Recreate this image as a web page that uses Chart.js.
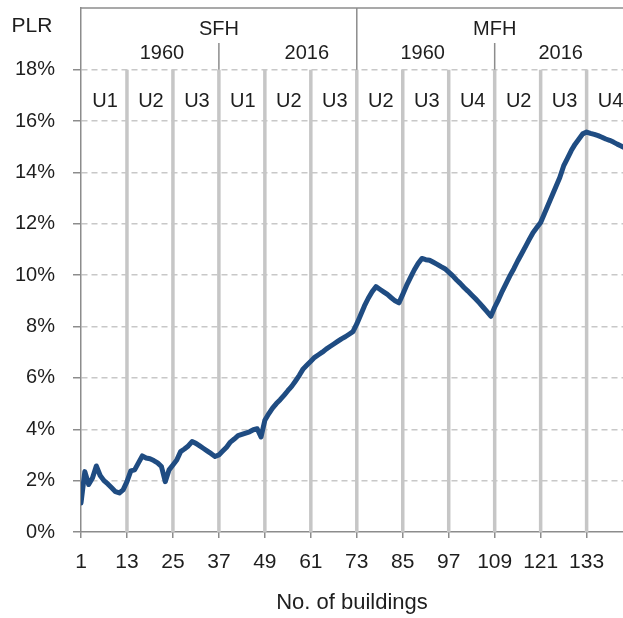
<!DOCTYPE html>
<html>
<head>
<meta charset="utf-8">
<script src="https://cdn.jsdelivr.net/npm/chart.js@4.4.1/dist/chart.umd.min.js"></script>
<style>
  html, body { margin: 0; padding: 0; background: #fff; overflow: hidden; }
  #wrap { width: 623px; height: 618px; }
</style>
</head>
<body>
<div id="wrap"><canvas id="plrChart" width="623" height="618"></canvas></div>
<script>
// PLR per building (buildings 1..144)
const plrValues = [
  1.13, 2.35, 1.85, 2.10, 2.57, 2.20, 2.00, 1.87, 1.72, 1.57, 1.52, 1.64,
  1.96, 2.38, 2.42, 2.69, 2.96, 2.88, 2.85, 2.78, 2.69, 2.55, 1.96, 2.42,
  2.61, 2.80, 3.13, 3.23, 3.35, 3.52, 3.45, 3.35, 3.25, 3.15, 3.05, 2.94,
  3.00, 3.15, 3.30, 3.50, 3.62, 3.75, 3.80, 3.85, 3.90, 3.98, 4.02, 3.70,
  4.35, 4.60, 4.82, 5.00, 5.15, 5.32, 5.50, 5.67, 5.88, 6.10, 6.35, 6.50,
  6.65, 6.80, 6.90, 7.00, 7.12, 7.22, 7.32, 7.42, 7.52, 7.60, 7.70, 7.80,
  8.10, 8.45, 8.80, 9.10, 9.35, 9.55, 9.45, 9.35, 9.25, 9.12, 9.00, 8.92,
  9.25, 9.60, 9.90, 10.20, 10.45, 10.65, 10.60, 10.58, 10.50, 10.42, 10.33, 10.25,
  10.12, 9.98, 9.82, 9.68, 9.52, 9.38, 9.23, 9.08, 8.92, 8.75, 8.58, 8.40,
  8.75, 9.05, 9.38, 9.68, 9.98, 10.25, 10.55, 10.82, 11.10, 11.38, 11.65, 11.85,
  12.05, 12.40, 12.75, 13.10, 13.45, 13.80, 14.25, 14.55, 14.85, 15.10, 15.30, 15.50,
  15.57, 15.52, 15.48, 15.43, 15.37, 15.30, 15.25, 15.18, 15.10, 15.03, 14.95, 14.90
];
const xTickValues = [1, 13, 25, 37, 49, 61, 73, 85, 97, 109, 121, 133];
const yTickValues = [0, 2, 4, 6, 8, 10, 12, 14, 16, 18];

// header groups
const typeLabels = ['SFH', 'MFH'];
const typeStarts = [1, 73];
const yearLabels = ['1960', '2016', '1960', '2016'];
const yearStarts = [1, 37, 73, 109];
const unitLabels = ['U1', 'U2', 'U3', 'U1', 'U2', 'U3', 'U2', 'U3', 'U4', 'U2', 'U3', 'U4'];
const unitStarts = [1, 13, 25, 37, 49, 61, 73, 85, 97, 109, 121, 133];
const groupSize = 12;

const FONT = "'Liberation Sans', Arial, sans-serif";
const TEXT = '#1e1e1e';

const headerPlugin = {
  id: 'header',
  beforeDatasetsDraw(chart) {
    const { ctx, chartArea, scales: { x, y } } = chart;
    const top18 = y.getPixelForValue(18);
    ctx.save();
    // thick unit separators
    ctx.strokeStyle = '#c6c6c6';
    ctx.lineWidth = 3.5;
    unitStarts.slice(1).forEach(b => {
      const px = x.getPixelForValue(b);
      ctx.beginPath();
      ctx.moveTo(px, top18);
      ctx.lineTo(px, chartArea.bottom);
      ctx.stroke();
    });
    // header frame
    ctx.strokeStyle = '#8c8c8c';
    ctx.lineWidth = 1.5;
    ctx.beginPath();
    ctx.moveTo(chartArea.left, chartArea.top);
    ctx.lineTo(chartArea.right, chartArea.top);
    ctx.stroke();
    const midPx = x.getPixelForValue(typeStarts[1]);
    ctx.beginPath();
    ctx.moveTo(midPx, chartArea.top);
    ctx.lineTo(midPx, top18);
    ctx.stroke();
    [yearStarts[1], yearStarts[3]].forEach(b => {
      const px = x.getPixelForValue(b);
      ctx.beginPath();
      ctx.moveTo(px, chartArea.top + 35);
      ctx.lineTo(px, top18);
      ctx.stroke();
    });
    ctx.restore();
  },
  afterDraw(chart) {
    const { ctx, chartArea, scales: { x, y } } = chart;
    ctx.save();
    ctx.fillStyle = TEXT;
    ctx.textAlign = 'center';
    ctx.textBaseline = 'middle';
    ctx.font = '21px ' + FONT;
    ctx.fillText('PLR', 32, 26);
    ctx.font = '20px ' + FONT;
    typeLabels.forEach((t, i) => {
      const c = x.getPixelForValue(typeStarts[i] + 36);
      ctx.fillText(t, c, chartArea.top + 21);
    });
    const yearNudge = [12, 19, -3, -3];
    yearLabels.forEach((t, i) => {
      const c = x.getPixelForValue(yearStarts[i] + 18) + yearNudge[i];
      ctx.fillText(t, c, chartArea.top + 45);
    });
    const uY = (y.getPixelForValue(18) + y.getPixelForValue(16)) / 2 + 6;
    unitLabels.forEach((t, i) => {
      const c = x.getPixelForValue(unitStarts[i] + groupSize / 2) + 1;
      ctx.fillText(t, c, uY);
    });
    ctx.restore();
  }
};

new Chart(document.getElementById('plrChart'), {
  type: 'line',
  data: {
    datasets: [{
      label: 'PLR',
      data: plrValues.map((v, i) => ({ x: i + 1, y: v })),
      borderColor: '#1f4c82',
      borderWidth: 5,
      pointRadius: 0,
      tension: 0,
      borderJoinStyle: 'round',
      borderCapStyle: 'round'
    }]
  },
  options: {
    responsive: false,
    animation: false,
    devicePixelRatio: 1,
    layout: { padding: { top: 8, right: 0, left: 0, bottom: 0 } },
    plugins: { legend: { display: false }, tooltip: { enabled: false } },
    scales: {
      x: {
        type: 'linear',
        min: 1,
        max: 142.5,
        afterBuildTicks: s => { s.ticks = xTickValues.map(v => ({ value: v })); },
        afterFit: s => { s.height = 86; s.paddingLeft = 0; s.paddingRight = 0; },
        ticks: {
          autoSkip: false, maxRotation: 0, padding: 12,
          color: TEXT, font: { family: FONT, size: 21 },
          callback: v => String(v)
        },
        grid: { drawOnChartArea: false, drawTicks: true, tickLength: 6, tickColor: '#8c8c8c', lineWidth: 1.5 },
        border: { color: '#8c8c8c', width: 1.5 },
        title: {
          display: true, text: 'No. of buildings', color: TEXT,
          font: { family: FONT, size: 22 }, padding: { top: 0, bottom: 2 }
        }
      },
      y: {
        min: 0,
        max: 20.4,
        afterBuildTicks: s => { s.ticks = yTickValues.map(v => ({ value: v })); },
        afterFit: s => { s.width = 81; s.paddingTop = 0; s.paddingBottom = 0; },
        ticks: {
          padding: 18, color: TEXT, font: { family: FONT, size: 20 },
          callback: v => v + '%'
        },
        grid: {
          color: ctx => ctx.tick && ctx.tick.value === 0 ? 'rgba(0,0,0,0)' : '#c8c8c8',
          lineWidth: 1.5, tickLength: 8, tickColor: '#8c8c8c', tickBorderDash: []
        },
        border: { color: '#8c8c8c', width: 1.5, dash: [6, 4] }
      }
    }
  },
  plugins: [headerPlugin]
});
</script>
</body>
</html>
